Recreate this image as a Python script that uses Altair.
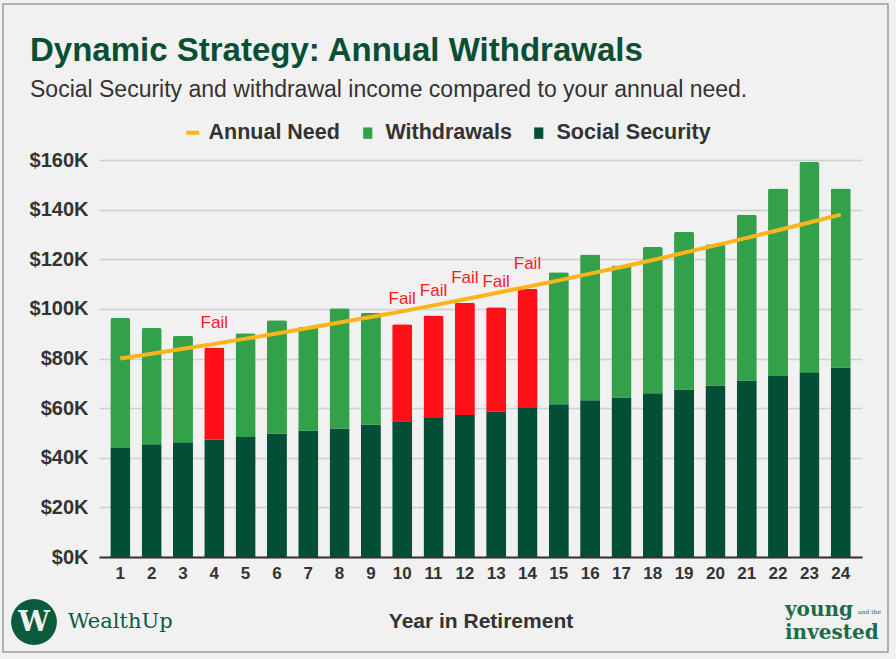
import altair as alt
import pandas as pd

years = list(range(1, 25))
social_security = [43.9, 45.4, 46.2, 47.4, 48.4, 49.7, 51.0, 51.8, 53.3, 54.7, 56.0, 57.2,
                   58.5, 60.1, 61.6, 63.2, 64.3, 66.0, 67.5, 69.1, 71.1, 72.9, 74.5, 76.4]
total_income = [96.3, 92.3, 89.1, 84.4, 90.2, 95.4, 92.7, 100.3, 98.3, 93.8, 97.3, 102.5,
                100.7, 108.1, 114.8, 121.9, 117.5, 124.9, 131.0, 126.0, 137.9, 148.5, 159.2, 148.5]
annual_need = [80.0, 81.9, 83.9, 85.9, 88.0, 90.1, 92.3, 94.5, 96.7, 99.0, 101.4, 103.9,
               106.4, 108.9, 111.5, 114.2, 116.9, 119.7, 122.6, 125.6, 128.6, 131.7, 134.8, 138.0]
fail_years = [4, 10, 11, 12, 13, 14]

bar_series = ["Withdrawals", "Social Security", "Fail"]
bar_colors = ["#33A04A", "#034E37", "#FF0F17"]

rows = []
for y, ss, tot in zip(years, social_security, total_income):
    rows.append({"year": y, "series": "Social Security", "value": ss * 1000, "order": 0})
    rows.append({"year": y, "series": "Fail" if y in fail_years else "Withdrawals",
                 "value": (tot - ss) * 1000, "order": 1})
bars_df = pd.DataFrame(rows)
need_df = pd.DataFrame({"year": years, "need": [v * 1000 for v in annual_need],
                        "series": ["Annual Need"] * len(years)})
fail_df = pd.DataFrame({"year": fail_years,
                        "top": [total_income[y - 1] * 1000 for y in fail_years],
                        "label": ["Fail"] * len(fail_years)})

FONT = "Liberation Sans"
TXT = "#333333"
DARK = "#0A4F33"

x_enc = alt.X("year:O", title="Year in Retirement",
              scale=alt.Scale(paddingInner=0.36, paddingOuter=0.36),
              axis=alt.Axis(labelAngle=0, labelFont=FONT, labelFontSize=17, labelFontWeight="bold",
                            labelColor=TXT, labelPadding=8, ticks=False, domainColor="#333333",
                            domainWidth=2, titleFont=FONT, titleFontSize=21, titleFontWeight="bold",
                            titleColor=TXT, titleBaseline="alphabetic", titleY=70, grid=False,
                            zindex=1))

frame = alt.Chart(pd.DataFrame({"a": [0]})).mark_rect(
    fillOpacity=0, stroke="#9A9A9A", strokeWidth=1.5
).encode(x=alt.value(-96), x2=alt.value(789), y=alt.value(-156), y2=alt.value(492))

legend_common = dict(title=None, orient="none", direction="horizontal",
                     labelFont=FONT, labelFontSize=21.5, labelFontWeight="bold", labelColor=TXT,
                     columnPadding=16)

bars = alt.Chart(bars_df).mark_bar(cornerRadiusTopLeft=2, cornerRadiusTopRight=2).encode(
    x=x_enc,
    y=alt.Y("value:Q", stack="zero", title=None,
            scale=alt.Scale(domain=[0, 160000]),
            axis=alt.Axis(values=list(range(0, 160001, 20000)),
                          labelExpr="'$' + datum.value/1000 + 'K'",
                          labelFont=FONT, labelFontSize=20, labelFontWeight="bold", labelColor=TXT,
                          labelPadding=11, ticks=False, domain=False, gridColor="#CFCFCF",
                          gridWidth=1.5)),
    fill=alt.Fill("series:N",
                  scale=alt.Scale(domain=bar_series, range=bar_colors),
                  legend=alt.Legend(legendX=258, legendY=-38,
                                    values=["Withdrawals", "Social Security"],
                                    symbolType="M-0.8,-1H0.8V1H-0.8Z", symbolSize=130,
                                    symbolStrokeWidth=0, labelOffset=7, **legend_common)),
    order=alt.Order("order:Q"),
)

line = alt.Chart(need_df).mark_line(strokeWidth=4).encode(
    x=alt.X("year:O"), y=alt.Y("need:Q"),
    stroke=alt.Stroke("series:N", scale=alt.Scale(domain=["Annual Need"], range=["#FBB41A"]),
                      legend=alt.Legend(legendX=83, legendY=-38, symbolType="stroke",
                                        symbolSize=169, symbolStrokeWidth=4, labelOffset=5,
                                        **legend_common)))

fails = alt.Chart(fail_df).mark_text(color="#FF1A1A", font=FONT, fontSize=17,
                                     baseline="alphabetic", dy=-20).encode(
    x=alt.X("year:O"), y=alt.Y("top:Q"), text="label:N")

title_df = pd.DataFrame({"t": ["Dynamic Strategy: Annual Withdrawals"]})
title = alt.Chart(title_df).mark_text(align="left", baseline="alphabetic", font=FONT,
                                      fontSize=33, fontWeight="bold", color=DARK).encode(
    x=alt.value(-69), y=alt.value(-99), text="t:N")
sub_df = pd.DataFrame({"t": ["Social Security and withdrawal income compared to your annual need."]})
subtitle = alt.Chart(sub_df).mark_text(align="left", baseline="alphabetic", font=FONT,
                                       fontSize=23, color=TXT).encode(
    x=alt.value(-69), y=alt.value(-63), text="t:N")

logo_c = alt.Chart(pd.DataFrame({"a": [0]})).mark_point(
    shape="circle", filled=True, color="#0B5A3C", opacity=1, size=2100).encode(
    x=alt.value(-65), y=alt.value(462))
logo_w = alt.Chart(pd.DataFrame({"t": ["W"]})).mark_text(
    font="DejaVu Serif", fontSize=28, fontWeight="bold", color="#F1F1F1",
    baseline="middle", align="center").encode(x=alt.value(-65), y=alt.value(463), text="t:N")
logo_t = alt.Chart(pd.DataFrame({"t": ["WealthUp"]})).mark_text(
    font="DejaVu Serif", fontSize=21, color="#0B5A3C", baseline="alphabetic", align="left").encode(
    x=alt.value(-31), y=alt.value(468), text="t:N")
yi1 = alt.Chart(pd.DataFrame({"t": ["young"]})).mark_text(
    font="DejaVu Serif", fontSize=20, fontWeight="bold", color="#1D6B4A", baseline="alphabetic",
    align="left").encode(x=alt.value(686), y=alt.value(456), text="t:N")
yi2 = alt.Chart(pd.DataFrame({"t": ["and the"]})).mark_text(
    font="DejaVu Serif", fontSize=6, color="#1D6B4A", baseline="alphabetic",
    align="left").encode(x=alt.value(759), y=alt.value(454), text="t:N")
yi3 = alt.Chart(pd.DataFrame({"t": ["invested"]})).mark_text(
    font="DejaVu Serif", fontSize=20, fontWeight="bold", color="#1D6B4A", baseline="alphabetic",
    align="left").encode(x=alt.value(686), y=alt.value(479), text="t:N")

chart = alt.layer(frame, bars, line, fails, title, subtitle, logo_c, logo_w, logo_t, yi1, yi2, yi3).properties(
    width=763, height=397,
    padding={"left": 99, "top": 160, "right": 34, "bottom": 102},
    autosize=alt.AutoSizeParams(type="none"),
    background="#F1F1F1",
).configure_view(stroke=None)

chart.save("out.html", embed_options={"renderer": "svg", "actions": False})
